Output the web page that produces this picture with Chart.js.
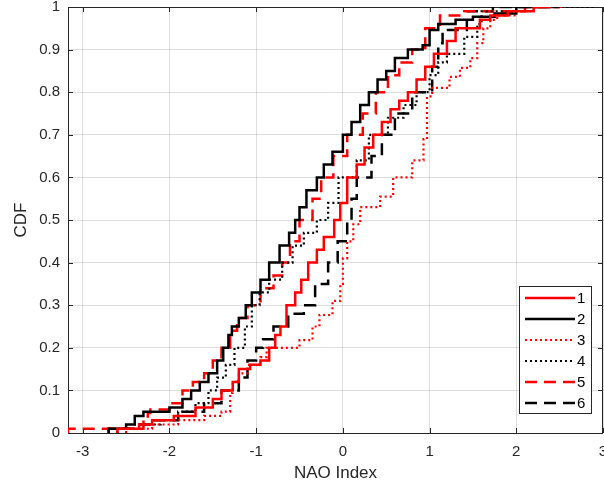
<!DOCTYPE html>
<html lang="en">
<head>
  <meta charset="UTF-8">
  <title>NAO Index CDF</title>
  <script src="https://cdn.jsdelivr.net/npm/chart.js"></script>
  <style>
    body { margin: 0; background: #fff; }
    canvas { display: block; }
  </style>
</head>
<body>
  <canvas id="cdfChart" width="604" height="486"></canvas>

  <script>
    // tick labels
    const xTicks = [-3, -2, -1, 0, 1, 2, 3];
    const yTicks = [0, 0.1, 0.2, 0.3, 0.4, 0.5, 0.6, 0.7, 0.8, 0.9, 1];
    const seriesNames = ['1', '2', '3', '4', '5', '6'];

    // series 1 - red solid
    const s1X = [-2.6, -2.35, -2.2, -1.95, -1.7, -1.5, -1.4, -1.27, -1.2, -1.07, -0.95, -0.85, -0.78, -0.72, -0.65, -0.55, -0.48, -0.4, -0.3, -0.22, -0.1, -0.03, 0.05, 0.16, 0.25, 0.35, 0.45, 0.55, 0.65, 0.75, 0.85, 0.95, 1.05, 1.2, 1.3, 1.58, 1.7, 1.9, 2.2, 2.4];
    const s1Y = [0, 0.01, 0.02, 0.03, 0.04, 0.06, 0.08, 0.10, 0.12, 0.15, 0.16, 0.17, 0.20, 0.23, 0.25, 0.30, 0.33, 0.36, 0.40, 0.43, 0.46, 0.50, 0.54, 0.60, 0.63, 0.67, 0.70, 0.73, 0.76, 0.78, 0.80, 0.83, 0.86, 0.89, 0.92, 0.95, 0.97, 0.98, 0.99, 1.0];

    // series 2 - black solid
    const s2X = [-2.7, -2.5, -2.4, -2.3, -2.0, -1.85, -1.75, -1.65, -1.55, -1.45, -1.38, -1.32, -1.28, -1.2, -1.12, -1.05, -0.95, -0.85, -0.73, -0.62, -0.55, -0.5, -0.42, -0.3, -0.22, -0.12, 0.0, 0.1, 0.2, 0.3, 0.4, 0.5, 0.6, 0.75, 0.92, 1.0, 1.1, 1.3, 1.5, 1.75, 2.0, 2.5];
    const s2Y = [0, 0.01, 0.02, 0.04, 0.05, 0.06, 0.08, 0.10, 0.12, 0.14, 0.17, 0.20, 0.23, 0.25, 0.27, 0.30, 0.33, 0.36, 0.40, 0.44, 0.47, 0.50, 0.53, 0.57, 0.60, 0.63, 0.66, 0.70, 0.73, 0.77, 0.80, 0.83, 0.85, 0.88, 0.90, 0.91, 0.946, 0.96, 0.97, 0.977, 0.985, 1.0];

    // series 3 - red dotted
    const s3X = [-2.5, -2.2, -1.9, -1.6, -1.4, -1.3, -1.27, -1.2, -1.1, -0.95, -0.88, -0.5, -0.35, -0.27, -0.12, -0.03, 0.0, 0.05, 0.12, 0.2, 0.43, 0.58, 0.8, 0.93, 0.97, 1.03, 1.23, 1.35, 1.47, 1.55, 1.62, 1.7, 1.78, 2.0, 2.55];
    const s3Y = [0, 0.01, 0.02, 0.03, 0.04, 0.05, 0.094, 0.12, 0.14, 0.16, 0.178, 0.20, 0.218, 0.25, 0.277, 0.31, 0.35, 0.41, 0.45, 0.49, 0.53, 0.555, 0.60, 0.64, 0.69, 0.79, 0.81, 0.836, 0.857, 0.88, 0.915, 0.95, 0.97, 0.98, 1.0];

    // series 4 - black dotted
    const s4X = [-2.6, -2.4, -2.1, -1.9, -1.7, -1.55, -1.45, -1.35, -1.25, -1.13, -1.05, -0.96, -0.85, -0.7, -0.58, -0.45, -0.3, -0.17, -0.05, 0.16, 0.3, 0.52, 0.7, 0.85, 1.0, 1.1, 1.2, 1.4, 1.55, 1.6, 2.0, 2.9];
    const s4Y = [0, 0.01, 0.02, 0.03, 0.05, 0.07, 0.10, 0.13, 0.16, 0.20, 0.25, 0.30, 0.33, 0.36, 0.40, 0.44, 0.47, 0.50, 0.54, 0.60, 0.64, 0.70, 0.74, 0.77, 0.80, 0.84, 0.87, 0.89, 0.93, 0.96, 0.99, 1.0];

    // series 5 - red dashed
    const s5X = [-3.17, -2.3, -2.25, -2.22, -2.0, -1.85, -1.73, -1.6, -1.5, -1.4, -1.3, -1.22, -1.1, -0.95, -0.8, -0.7, -0.61, -0.5, -0.35, -0.25, -0.11, 0.05, 0.23, 0.38, 0.52, 0.65, 0.8, 0.95, 1.12, 1.4, 2.1, 2.5];
    const s5Y = [0, 0.01, 0.03, 0.047, 0.055, 0.07, 0.10, 0.12, 0.14, 0.17, 0.20, 0.24, 0.27, 0.30, 0.34, 0.37, 0.40, 0.45, 0.50, 0.55, 0.60, 0.65, 0.70, 0.75, 0.80, 0.84, 0.87, 0.90, 0.95, 0.98, 0.99, 1.0];

    // series 6 - black dashed
    const s6X = [-2.7, -2.4, -2.2, -1.9, -1.6, -1.4, -1.2, -1.1, -1.0, -0.92, -0.8, -0.63, -0.45, -0.32, -0.17, -0.06, 0.05, 0.1, 0.16, 0.33, 0.45, 0.6, 0.8, 1.03, 1.1, 1.15, 1.43, 1.73, 2.4];
    const s6Y = [0, 0.01, 0.02, 0.03, 0.05, 0.07, 0.10, 0.13, 0.17, 0.20, 0.22, 0.25, 0.28, 0.30, 0.35, 0.40, 0.45, 0.50, 0.55, 0.60, 0.65, 0.70, 0.75, 0.80, 0.86, 0.915, 0.946, 0.99, 1.0];

    const toPoints = (xs, ys) => xs.map((x, i) => ({ x: x, y: ys[i] }));

    const FONT = "'Liberation Sans', Arial, Helvetica, sans-serif";
    const AXIS = '#262626';

    // box + inward ticks, like matlab axes
    const boxPlugin = {
      id: 'box',
      beforeDatasetsDraw(chart) {
        const { ctx, chartArea: a, scales } = chart;
        ctx.save();
        ctx.strokeStyle = AXIS;
        ctx.lineWidth = 1;
        ctx.strokeRect(a.left + 0.5, a.top + 0.5, a.right - a.left - 1, a.bottom - a.top);
        ctx.beginPath();
        xTicks.forEach(v => {
          const px = Math.round(scales.x.getPixelForValue(v)) + 0.5;
          ctx.moveTo(px, a.bottom); ctx.lineTo(px, a.bottom - 5);
          ctx.moveTo(px, a.top); ctx.lineTo(px, a.top + 5);
        });
        yTicks.forEach(v => {
          const py = Math.round(scales.y.getPixelForValue(v)) + 0.5;
          ctx.moveTo(a.left, py); ctx.lineTo(a.left + 5, py);
          ctx.moveTo(a.right, py); ctx.lineTo(a.right - 5, py);
        });
        ctx.stroke();
        ctx.restore();
      }
    };

    const legendPlugin = {
      id: 'boxLegend',
      afterDraw(chart) {
        const ctx = chart.ctx;
        const x0 = 519.5, y0 = 286.5, w = 72, h = 127;
        ctx.save();
        ctx.fillStyle = '#fff';
        ctx.fillRect(x0, y0, w, h);
        ctx.strokeStyle = AXIS;
        ctx.lineWidth = 1;
        ctx.setLineDash([]);
        ctx.strokeRect(x0, y0, w, h);
        chart.data.datasets.forEach((ds, i) => {
          const y = 298 + i * 21;
          ctx.beginPath();
          ctx.strokeStyle = ds.borderColor;
          ctx.lineWidth = ds.borderWidth;
          ctx.setLineDash(ds.borderDash || []);
          ctx.moveTo(525, y);
          ctx.lineTo(575, y);
          ctx.stroke();
          ctx.setLineDash([]);
          ctx.fillStyle = '#000';
          ctx.font = '15px ' + FONT;
          ctx.textBaseline = 'middle';
          ctx.fillText(ds.label, 577, y + 1);
        });
        ctx.restore();
      }
    };

    const styles = [
      { color: '#ff0000', width: 2.5, dash: [] },
      { color: '#000000', width: 2.5, dash: [] },
      { color: '#ff0000', width: 2.2, dash: [2, 3] },
      { color: '#000000', width: 2.2, dash: [2, 3] },
      { color: '#ff0000', width: 2.5, dash: [12, 7] },
      { color: '#000000', width: 2.5, dash: [12, 7] }
    ];
    const allPoints = [
      toPoints(s1X, s1Y), toPoints(s2X, s2Y), toPoints(s3X, s3Y),
      toPoints(s4X, s4Y), toPoints(s5X, s5Y), toPoints(s6X, s6Y)
    ];

    const ctx = document.getElementById('cdfChart').getContext('2d');
    new Chart(ctx, {
      type: 'line',
      data: {
        datasets: allPoints.map((pts, i) => ({
          label: seriesNames[i],
          data: pts,
          borderColor: styles[i].color,
          borderWidth: styles[i].width,
          borderDash: styles[i].dash,
          stepped: 'after',
          pointRadius: 0,
          fill: false
        }))
      },
      options: {
        responsive: false,
        animation: false,
        layout: { padding: { top: 7, right: 1, left: 0, bottom: 0 } },
        plugins: {
          legend: { display: false },
          tooltip: { enabled: false }
        },
        scales: {
          x: {
            type: 'linear',
            min: -3.17,
            max: 3,
            afterBuildTicks: s => { s.ticks = xTicks.map(v => ({ value: v })); },
            afterFit: s => { s.height = 53; s.paddingLeft = 0; s.paddingRight = 0; },
            grid: { color: 'rgba(0,0,0,0.13)', drawTicks: false },
            border: { display: false },
            ticks: { color: AXIS, padding: 10, font: { family: FONT, size: 15 } },
            title: {
              display: true, text: 'NAO Index', color: AXIS,
              font: { family: FONT, size: 17 }, padding: { top: 0, bottom: 2 }
            }
          },
          y: {
            type: 'linear',
            min: 0,
            max: 1,
            afterBuildTicks: s => { s.ticks = yTicks.map(v => ({ value: v })); },
            afterFit: s => { s.width = 68; s.paddingTop = 0; s.paddingBottom = 0; },
            grid: { color: 'rgba(0,0,0,0.13)', drawTicks: false },
            border: { display: false },
            ticks: {
              color: AXIS, padding: 8, font: { family: FONT, size: 15 },
              callback: v => String(v)
            },
            title: {
              display: true, text: 'CDF', color: AXIS,
              font: { family: FONT, size: 17 }, padding: { top: 11, bottom: 0 }
            }
          }
        }
      },
      plugins: [boxPlugin, legendPlugin]
    });
  </script>
</body>
</html>
